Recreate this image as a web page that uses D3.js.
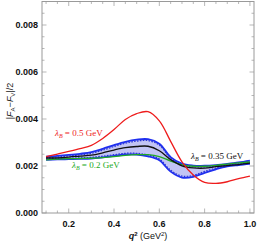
<!DOCTYPE html>
<html>
<head>
<meta charset="utf-8">
<script src="https://cdn.jsdelivr.net/npm/d3@7"></script>
<style>
  body { margin: 0; background: #fff; }
  svg { display: block; }
  .tick-label { font-family: "Liberation Sans", Arial, sans-serif; font-size: 9px; font-weight: bold; fill: #111; }
  .curve-label { font-family: "Liberation Serif", "Times New Roman", serif; font-size: 9px; }
</style>
</head>
<body>
<div id="chart"></div>
<script>
// q^2 grid (GeV^2)
var qValues = [0.1, 0.15, 0.2, 0.25, 0.3, 0.35, 0.4, 0.45, 0.5, 0.55, 0.6, 0.65, 0.7, 0.75, 0.8, 0.85, 0.9, 0.95, 1.0];

// |F_A - F_V|/2 for each lambda_B
var red05 = [0.00240, 0.00251, 0.00262, 0.00274, 0.00288, 0.00317, 0.00355, 0.00398, 0.00423, 0.00431, 0.00392, 0.00305, 0.00218, 0.00162, 0.00130, 0.00126, 0.00133, 0.00146, 0.00157];
var black035 = [0.00234, 0.00235, 0.00238, 0.00242, 0.00246, 0.00256, 0.00268, 0.00278, 0.00283, 0.00284, 0.00265, 0.00227, 0.00201, 0.00192, 0.00191, 0.00197, 0.00202, 0.00206, 0.00212];
var green02 = [0.00226, 0.00229, 0.00231, 0.00232, 0.00233, 0.00236, 0.00240, 0.00245, 0.00248, 0.00248, 0.00240, 0.00221, 0.00205, 0.00199, 0.00199, 0.00203, 0.00208, 0.00213, 0.00217];
// uncertainty band around lambda_B = 0.35 GeV (solid edges)
var bandUpper = [0.00240, 0.00243, 0.00247, 0.00252, 0.00259, 0.00273, 0.00289, 0.00303, 0.00312, 0.00314, 0.00295, 0.00238, 0.00210, 0.00202, 0.00201, 0.00204, 0.00209, 0.00215, 0.00223];
var bandLower = [0.00226, 0.00228, 0.00229, 0.00230, 0.00232, 0.00237, 0.00243, 0.00249, 0.00249, 0.00241, 0.00224, 0.00176, 0.00151, 0.00154, 0.00171, 0.00186, 0.00198, 0.00204, 0.00209];
// dashed curves just inside the band
var dashUpper = [0.00236, 0.00239, 0.00243, 0.00247, 0.00254, 0.00267, 0.00283, 0.00297, 0.00306, 0.00308, 0.00289, 0.00233, 0.00205, 0.00197, 0.00196, 0.00199, 0.00204, 0.00210, 0.00218];
var dashLower = [0.00230, 0.00232, 0.00233, 0.00235, 0.00237, 0.00242, 0.00248, 0.00254, 0.00254, 0.00247, 0.00230, 0.00182, 0.00157, 0.00160, 0.00177, 0.00191, 0.00203, 0.00209, 0.00214];

var xTicks = [0.2, 0.4, 0.6, 0.8, 1.0];
var yTicks = [0, 0.002, 0.004, 0.006, 0.008];

var svgWidth = 257;
var svgHeight = 246;

var plot = { left: 42, right: 254, top: 1.5, bottom: 213 };

var svg = d3.select("#chart")
  .append("svg")
  .attr("width", svgWidth)
  .attr("height", svgHeight);

var xScale = d3.scaleLinear()
  .domain([0.082, 1.018])
  .range([plot.left, plot.right]);

var yScale = d3.scaleLinear()
  .domain([0, 0.009])
  .range([plot.bottom, plot.top]);

var rows = qValues.map(function(q, i) {
  return {
    q: q, red: red05[i], black: black035[i], green: green02[i],
    up: bandUpper[i], lo: bandLower[i], dup: dashUpper[i], dlo: dashLower[i]
  };
});

var curve = d3.curveCatmullRom.alpha(0.5);

function lineFor(key) {
  return d3.line()
    .x(d => xScale(d.q))
    .y(d => yScale(d[key]))
    .curve(curve);
}

function drawLine(key, color, width, dash) {
  var p = svg.append("path")
    .datum(rows)
    .attr("d", lineFor(key))
    .attr("fill", "none")
    .attr("stroke", color)
    .attr("stroke-width", width);
  if (dash) p.attr("stroke-dasharray", dash);
  return p;
}

// band fill
svg.append("path")
  .datum(rows)
  .attr("d", d3.area()
    .x(d => xScale(d.q))
    .y0(d => yScale(d.lo))
    .y1(d => yScale(d.up))
    .curve(curve))
  .attr("fill", "#c2c4f4");

drawLine("up", "#1f2ff0", 1.8);
drawLine("lo", "#1f2ff0", 1.8);
drawLine("dup", "#2a35d8", 1.2, "1.6,1.3");
drawLine("dlo", "#2a35d8", 1.2, "1.6,1.3");

drawLine("green", "#22aa22", 1.3);
drawLine("black", "#111", 1.3);
drawLine("red", "#ee1c1c", 1.3);

// frame with inward ticks (Mathematica style)
var frameColor = "#9a9a9a";
svg.append("rect")
  .attr("x", plot.left)
  .attr("y", plot.top)
  .attr("width", plot.right - plot.left)
  .attr("height", plot.bottom - plot.top)
  .attr("fill", "none")
  .attr("stroke", frameColor)
  .attr("stroke-width", 1);

var xMinor = d3.range(0.1, 1.001, 0.05);
var yMinor = d3.range(0, 0.0090001, 0.0005);

function isMajor(v, list) {
  return list.some(t => Math.abs(t - v) < 1e-9);
}

xMinor.forEach(function(v) {
  var len = isMajor(v, xTicks) ? 4.5 : 2.5;
  var x = xScale(v);
  svg.append("line").attr("x1", x).attr("x2", x).attr("y1", plot.bottom).attr("y2", plot.bottom - len)
    .attr("stroke", frameColor).attr("stroke-width", 0.7);
  svg.append("line").attr("x1", x).attr("x2", x).attr("y1", plot.top).attr("y2", plot.top + len)
    .attr("stroke", frameColor).attr("stroke-width", 0.7);
});

yMinor.forEach(function(v) {
  var len = isMajor(v, yTicks) ? 4.5 : 2.5;
  var y = yScale(v);
  svg.append("line").attr("x1", plot.left).attr("x2", plot.left + len).attr("y1", y).attr("y2", y)
    .attr("stroke", frameColor).attr("stroke-width", 0.7);
  svg.append("line").attr("x1", plot.right).attr("x2", plot.right - len).attr("y1", y).attr("y2", y)
    .attr("stroke", frameColor).attr("stroke-width", 0.7);
});

// tick labels
svg.selectAll(".xlab")
  .data(xTicks)
  .enter()
  .append("text")
  .attr("class", "tick-label")
  .attr("x", d => xScale(d))
  .attr("y", plot.bottom + 14)
  .attr("text-anchor", "middle")
  .text(d => d3.format(".1f")(d));

svg.selectAll(".ylab")
  .data(yTicks)
  .enter()
  .append("text")
  .attr("class", "tick-label")
  .attr("x", plot.left - 4)
  .attr("y", d => yScale(d) + 3.2)
  .attr("text-anchor", "end")
  .text(d => d3.format(".3f")(d));

// axis titles
var xTitle = svg.append("text")
  .attr("x", 148)
  .attr("y", 239)
  .attr("text-anchor", "middle")
  .attr("font-family", "Liberation Sans, Arial, sans-serif")
  .attr("font-size", "9px")
  .attr("fill", "#111");
xTitle.append("tspan").attr("font-style", "italic").attr("font-weight", "bold").text("q");
xTitle.append("tspan").attr("font-size", "6px").attr("dy", -3.5).attr("font-weight", "bold").text("2");
xTitle.append("tspan").attr("dy", 3.5).text(" (GeV");
xTitle.append("tspan").attr("font-size", "6px").attr("dy", -3.5).text("2");
xTitle.append("tspan").attr("dy", 3.5).text(")");

var yTitle = svg.append("text")
  .attr("transform", "translate(13, 101) rotate(-90)")
  .attr("text-anchor", "middle")
  .attr("font-family", "Liberation Sans, Arial, sans-serif")
  .attr("font-size", "9px")
  .attr("fill", "#222");
yTitle.append("tspan").text("|");
yTitle.append("tspan").attr("font-style", "italic").text("F");
yTitle.append("tspan").attr("font-size", "6px").attr("dy", 2).text("A");
yTitle.append("tspan").attr("dy", -2).text("\u2212");
yTitle.append("tspan").attr("font-style", "italic").text("F");
yTitle.append("tspan").attr("font-size", "6px").attr("dy", 2).text("V");
yTitle.append("tspan").attr("dy", -2).text("|/2");

// curve labels
function curveLabel(x, y, value, color) {
  var t = svg.append("text")
    .attr("class", "curve-label")
    .attr("x", x)
    .attr("y", y)
    .attr("fill", color);
  t.append("tspan").attr("font-style", "italic").text("\u03bb");
  t.append("tspan").attr("font-size", "6px").attr("dy", 2).attr("font-style", "italic").text("B");
  t.append("tspan").attr("dy", -2).text(" = " + value + " GeV");
}

curveLabel(55, 136, "0.5", "#ee1c1c");
curveLabel(72, 168, "0.2", "#22aa22");
curveLabel(191, 159, "0.35", "#111");
</script>
</body>
</html>
